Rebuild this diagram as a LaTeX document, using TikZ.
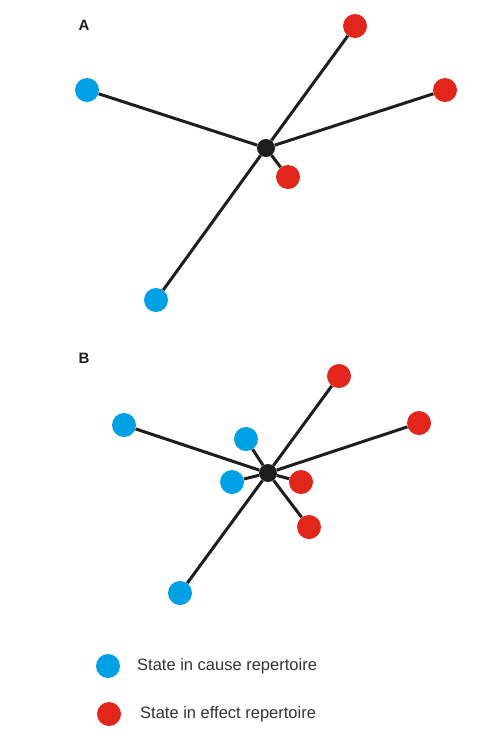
\documentclass[tikz,border=0pt]{standalone}
\usepackage{fontspec}
\setmainfont{Liberation Sans}
\definecolor{causeblue}{RGB}{0,161,228}
\definecolor{effred}{RGB}{227,38,28}
\definecolor{hub}{RGB}{30,30,30}
\definecolor{legtext}{RGB}{50,50,50}
\tikzset{
  cst/.style={circle,fill=causeblue,minimum size=24pt,inner sep=0pt},
  est/.style={circle,fill=effred,minimum size=24pt,inner sep=0pt},
  ctr/.style={circle,fill=hub,minimum size=18pt,inner sep=0pt},
  spoke/.style={line width=3pt,draw=hub},
  panel/.style={font=\fontsize{15}{17}\selectfont\bfseries,text=hub},
  legend/.style={anchor=west,inner sep=0pt,text=legtext,font=\fontsize{16.5}{19}\selectfont}
}
\begin{document}
\begin{tikzpicture}[x=1pt,y=-1pt]
    \useasboundingbox (0,0) rectangle (490,748);
    % panel A
    \node[panel] (A) at (84,25) {A};
    \node[ctr] (Ac) at (266,148) {};
    \node[est] (Ae1) at (355,26) {};
    \node[est] (Ae2) at (445,90) {};
    \node[est] (Ae3) at (288,177) {};
    \node[cst] (Ac1) at (87,90) {};
    \node[cst] (Ac2) at (156,300) {};
    \draw[spoke] (Ac) -- (Ae1);
    \draw[spoke] (Ac) -- (Ae2);
    \draw[spoke] (Ac) -- (Ae3);
    \draw[spoke] (Ac) -- (Ac1);
    \draw[spoke] (Ac) -- (Ac2);
    % panel B
    \node[panel] (B) at (84,358) {B};
    \node[ctr] (Bc) at (268,473) {};
    \node[est] (Be1) at (339,376) {};
    \node[est] (Be2) at (419,423) {};
    \node[est] (Be3) at (301,482) {};
    \node[est] (Be4) at (309,527) {};
    \node[cst] (Bc1) at (124,425) {};
    \node[cst] (Bc2) at (246,439) {};
    \node[cst] (Bc3) at (232,482) {};
    \node[cst] (Bc4) at (180,593) {};
    \draw[spoke] (Bc) -- (Be1);
    \draw[spoke] (Bc) -- (Be2);
    \draw[spoke] (Bc) -- (Be3);
    \draw[spoke] (Bc) -- (Be4);
    \draw[spoke] (Bc) -- (Bc1);
    \draw[spoke] (Bc) -- (Bc2);
    \draw[spoke] (Bc) -- (Bc3);
    \draw[spoke] (Bc) -- (Bc4);
    % legend
    \node[cst] (Lc) at (108,666) {};
    \node[est] (Le) at (109,714) {};
    \node[legend] (Lct) at (137,666) {State in cause repertoire};
    \node[legend] (Let) at (140,714) {State in effect repertoire};
  \end{tikzpicture}
\end{document}
